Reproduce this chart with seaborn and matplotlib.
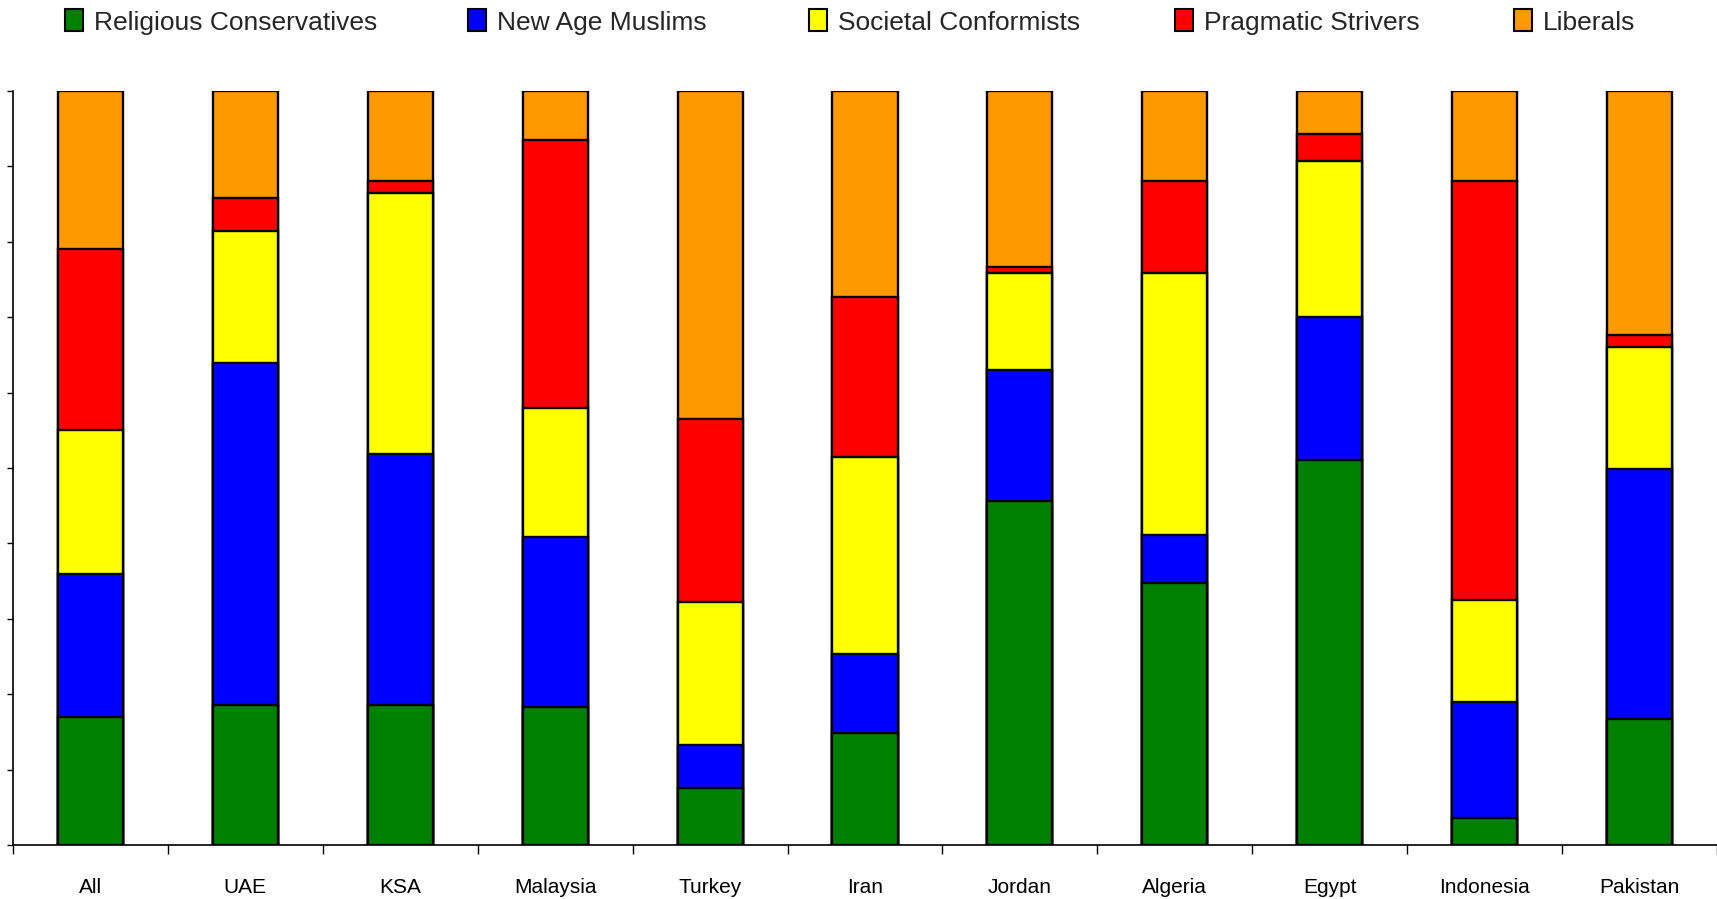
import numpy as np
import pandas as pd
import matplotlib
matplotlib.use("Agg")
import matplotlib.pyplot as plt
from matplotlib.patches import Patch
import seaborn as sns

# Segment shares (%) per country, bottom to top
countries = ["All", "UAE", "KSA", "Malaysia", "Turkey", "Iran", "Jordan",
             "Algeria", "Egypt", "Indonesia", "Pakistan"]
religious_conservatives = [17.0, 18.6, 18.6, 18.3, 7.5, 14.8, 45.6, 34.8, 51.1, 3.6, 16.7]
new_age_muslims = [19.0, 45.3, 33.2, 22.6, 5.8, 10.5, 17.4, 6.3, 18.9, 15.4, 33.2]
societal_conformists = [19.0, 17.5, 34.7, 17.0, 18.9, 26.1, 12.8, 34.7, 20.7, 13.5, 16.1]
pragmatic_strivers = [24.0, 4.4, 1.6, 35.6, 24.3, 21.3, 0.8, 12.3, 3.6, 55.6, 1.6]
liberals = [21.0, 14.2, 11.9, 6.5, 43.5, 27.3, 23.4, 11.9, 5.7, 11.9, 32.4]

segments = ["Religious Conservatives", "New Age Muslims", "Societal Conformists",
            "Pragmatic Strivers", "Liberals"]
colors = ["#008000", "#0000FF", "#FFFF00", "#FF0000", "#FF9900"]

df = pd.DataFrame({
    "country": countries,
    segments[0]: religious_conservatives,
    segments[1]: new_age_muslims,
    segments[2]: societal_conformists,
    segments[3]: pragmatic_strivers,
    segments[4]: liberals,
})
cum = df[segments].cumsum(axis=1)

sns.set_theme(style="white")
plt.rcParams["font.family"] = ["Liberation Sans", "DejaVu Sans"]

W, H = 1717, 899
fig = plt.figure(figsize=(W / 100, H / 100), dpi=100)
ax = fig.add_axes([13 / W, 1 - 845 / H, 1 - 13 / W, (845 - 91) / H])

# Stacked bars: draw cumulative totals from the top segment down
for seg, col in reversed(list(zip(segments, colors))):
    sns.barplot(x=df["country"], y=cum[seg], order=countries, color=col,
                width=0.42, edgecolor="black", linewidth=1.7, saturation=1,
                ax=ax, zorder=2)

ax.set_xlim(-0.5, len(countries) - 0.5)
ax.set_ylim(0, 100)
ax.set_xlabel("")
ax.set_ylabel("")

for s in ["top", "right"]:
    ax.spines[s].set_visible(False)
for s in ["left", "bottom"]:
    ax.spines[s].set_color("black")
    ax.spines[s].set_linewidth(1.2)

ax.set_yticks(np.arange(0, 101, 10))
ax.set_yticklabels([])
ax.tick_params(axis="y", direction="out", length=4.5, width=1, color="black", left=True)

ax.set_xticks(range(len(countries)))
ax.set_xticklabels(countries, fontsize=15, color="black")
ax.tick_params(axis="x", which="major", length=0, pad=24)
ax.set_xticks(np.arange(-0.5, len(countries), 1), minor=True)
ax.tick_params(axis="x", which="minor", direction="out", length=6.5, width=1,
               color="black", bottom=True)

# Legend row along the top, one entry per segment
legend_x = [65, 468, 809, 1175, 1514]
for seg, col, lx in zip(segments, colors, legend_x):
    h = Patch(facecolor=col, edgecolor="black", linewidth=1.5, label=seg)
    leg = fig.legend(handles=[h], loc="center left", bbox_to_anchor=(lx / W, 1 - 22 / H),
                     frameon=False, fontsize=19, handlelength=0.68, handleheight=0.9,
                     handletextpad=0.42, borderpad=0, borderaxespad=0)

fig.savefig("out.png", dpi=100, facecolor="white")
